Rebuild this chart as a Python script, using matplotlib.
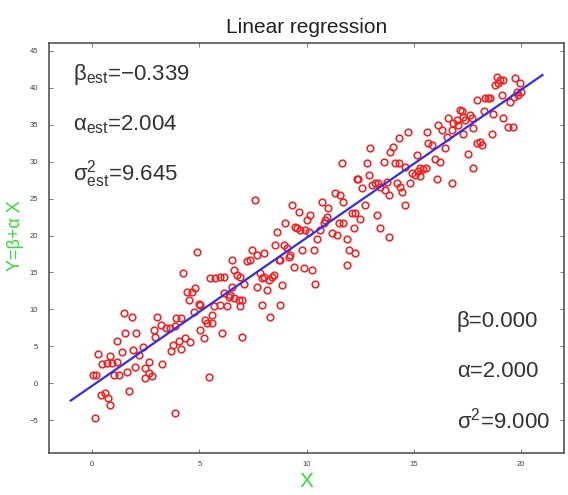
import numpy as np
import matplotlib
matplotlib.use("Agg")
import matplotlib.pyplot as plt

plt.rcParams['font.family'] = ['Liberation Sans', 'DejaVu Sans']
plt.rcParams['mathtext.fontset'] = 'custom'
plt.rcParams['mathtext.rm'] = 'Liberation Sans'
plt.rcParams['mathtext.it'] = 'Liberation Sans'

# samples
x_low = [0.03, 0.19, 0.12, 0.28, 0.39, 0.59, 0.75, 0.81, 0.47, 0.70, 0.93, 1.16, 0.85,
         1.16, 1.40, 1.49, 1.86, 1.55, 2.05, 1.89, 2.36, 2.20, 2.02, 1.63, 1.24, 1.01,
         1.74, 2.48, 2.64, 2.79, 2.45, 2.64, 3.26, 2.95, 2.87, 3.03, 3.23, 3.46, 3.65,
         3.85, 3.90, 4.15, 3.75, 4.03, 4.16, 3.69, 3.85, 4.24]
y_low = [1.12, 1.12, -4.74, 3.92, -1.58, -1.35, -2.03, -2.94, 2.57, 2.79, 2.71, 2.92, 3.74,
         5.77, 4.28, 9.55, 8.93, 6.85, 6.85, 4.50, 4.87, 3.83, 2.25, 1.57, 1.12, 1.12,
         -1.00, 2.03, 1.35, 0.99, 0.68, 2.92, 2.61, 6.20, 7.20, 8.93, 7.89, 7.53, 7.44,
         7.75, 8.80, 8.90, 5.14, 5.76, 4.60, 4.41, -4.06, 14.97]

x_mid = [4.35, 4.43, 4.66, 4.81, 4.50, 4.74, 4.58, 4.89, 4.97, 5.05, 5.05, 5.20, 5.28,
         5.36, 5.43, 5.51, 5.75, 5.98, 6.13, 5.59, 5.59, 5.67, 5.98, 6.06, 6.13, 6.37,
         6.44, 6.29, 6.52, 6.60, 6.75, 6.52, 6.60, 6.83, 6.99, 6.91, 6.99, 6.91, 7.07,
         7.22, 7.38, 7.45, 7.61, 7.69, 7.84, 7.92, 8.00, 7.92, 8.00, 8.15, 8.23, 8.31,
         8.39, 8.46, 8.54, 8.62, 8.70, 8.77, 8.74, 8.85, 8.93, 9.08, 7.70]
y_mid = [6.09, 12.40, 12.40, 12.86, 11.28, 9.70, 5.64, 17.80, 10.80, 10.60, 7.20, 6.09, 8.57,
         8.10, 0.90, 14.20, 14.20, 14.40, 14.40, 8.10, 9.20, 10.40, 10.60, 6.77, 12.20, 11.70,
         11.95, 10.40, 16.70, 15.30, 14.70, 13.10, 11.50, 11.30, 11.30, 10.40, 6.30, 14.40, 13.50,
         16.50, 16.70, 18.00, 24.80, 13.10, 14.90, 14.20, 14.40, 10.60, 17.60, 12.60, 13.98, 9.00,
         14.40, 14.70, 18.70, 20.50, 16.70, 16.70, 10.60, 13.30, 18.70, 18.30, 17.40]

x_high = [9.00, 9.16, 9.24, 9.32, 9.63, 9.39, 9.47, 9.55, 9.70, 9.78, 9.86, 10.25, 9.94,
          10.09, 10.00, 10.17, 10.33, 10.40, 10.48, 10.64, 10.70, 10.79, 10.87, 10.95, 11.02,
          11.18, 11.41, 11.34, 11.57, 11.49, 11.65, 11.72, 11.72, 11.88, 11.96, 12.27, 11.88,
          12.11, 12.27, 12.19, 12.34, 12.42, 12.50, 12.58, 12.73, 12.81, 12.89, 12.97, 13.04,
          13.20, 13.28, 13.35, 13.43, 13.43, 13.59, 13.66, 13.82, 13.74, 13.82, 13.90, 14.05,
          14.29, 14.13, 14.29, 14.21, 14.36, 14.44, 14.60, 14.60, 14.75, 14.83, 14.90, 15.05,
          15.20, 15.30, 15.45, 15.55, 15.14, 15.30, 15.60, 15.68, 15.84, 15.99, 16.23, 16.07,
          16.15, 16.30, 16.46, 16.54, 16.61, 16.77, 16.77, 16.85, 17.00, 17.08, 17.16, 17.24,
          17.31, 17.31, 17.39, 17.55, 17.62, 17.70, 17.78, 17.78, 17.93, 18.09, 18.17, 17.93,
          18.25, 18.32, 18.48, 18.56, 18.63, 18.71, 18.79, 18.87, 18.94, 19.00, 19.18, 19.10,
          19.18, 19.41, 19.64, 19.50, 19.66, 19.81, 19.72, 19.96, 19.88, 20.00]
y_high = [21.65, 17.10, 17.40, 24.10, 23.20, 15.80, 21.20, 21.00, 20.70, 18.00, 15.60, 15.30, 20.70,
          20.50, 22.10, 22.80, 18.00, 13.50, 19.60, 20.70, 24.60, 21.65, 22.10, 22.55, 23.70,
          20.30, 20.10, 25.70, 25.50, 21.65, 29.80, 24.60, 21.65, 19.60, 18.00, 17.70, 16.00,
          23.00, 23.00, 21.00, 27.70, 27.70, 22.30, 26.40, 24.10, 29.80, 28.20, 31.80, 26.80,
          27.10, 22.80, 27.10, 26.60, 21.00, 30.00, 26.20, 25.50, 27.30, 19.80, 31.30, 32.00,
          33.20, 29.80, 29.80, 27.10, 26.60, 25.90, 24.10, 29.30, 34.00, 27.10, 28.50, 28.20,
          28.80, 29.20, 29.00, 29.20, 30.90, 28.00, 34.00, 32.50, 32.30, 30.40, 30.00, 27.70,
          35.00, 34.30, 31.80, 33.40, 35.90, 34.30, 27.10, 35.20, 35.60, 35.00, 37.00, 36.80,
          36.10, 33.80, 35.60, 31.10, 36.30, 35.90, 29.10, 34.50, 32.50, 32.70, 32.30, 38.30,
          36.80, 38.60, 38.60, 38.60, 33.80, 36.50, 40.40, 41.50, 40.60, 41.00, 41.00, 39.00,
          35.90, 34.70, 34.70, 38.10, 38.80, 39.50, 41.30, 40.60, 39.00, 39.50]

x = np.array(x_low + x_mid + x_high)
y = np.array(y_low + y_mid + y_high)

beta_est, alpha_est, sigma2_est = -0.339, 2.004, 9.645
beta, alpha, sigma2 = 0.000, 2.000, 9.000
line_x = np.array([-1, 21])

fig = plt.figure(figsize=(5.68, 4.95), dpi=100)
ax = fig.add_axes([0.0868, 0.0855, 0.906, 0.828])

ax.plot(x, y, 'o', mfc='none', mec='#ff1a1a', ms=4.8, mew=1.1)
ax.plot(line_x, beta_est + alpha_est * line_x, color='#3030e8', lw=1.6)

ax.set_xlim(-2, 22)
ax.set_ylim(-9.4, 46.1)
ax.set_xticks(range(0, 21, 5))
ax.set_yticks(range(-5, 46, 5))
ax.tick_params(direction='in', length=3, top=True, right=True, labelsize=5.5,
               labelcolor='#444', color='#666', width=0.6)
ax.tick_params(axis='x', pad=6)
ax.tick_params(axis='y', pad=8)
for s in ax.spines.values():
    s.set_color('#555')
    s.set_linewidth(1.2)

ax.set_title('Linear regression', fontsize=15, color='#222', pad=7)
ax.set_xlabel('X', fontsize=15, color='#33dd33')
ax.set_ylabel('Y=β+α X', fontsize=13, color='#33dd33')
ax.yaxis.set_label_coords(-0.05, 0.53)
ax.xaxis.set_label_coords(0.5, -0.048)

tc = '#333'
ax.text(-0.9, 41.1, r'β$_{\rm est}$=−%.3f' % abs(beta_est), fontsize=16, color=tc, va='baseline')
ax.text(-0.9, 34.3, r'α$_{\rm est}$=%.3f' % alpha_est, fontsize=16, color=tc, va='baseline')
ax.text(-0.9, 27.5, r'σ$^{2}_{\rm est}$=%.3f' % sigma2_est, fontsize=16, color=tc, va='baseline')
ax.text(17.0, 7.6, 'β=%.3f' % beta, fontsize=16, color=tc, va='baseline')
ax.text(17.0, 0.8, 'α=%.3f' % alpha, fontsize=16, color=tc, va='baseline')
ax.text(17.0, -6.1, r'σ$^{2}$=%.3f' % sigma2, fontsize=16, color=tc, va='baseline')

fig.savefig('out.png', dpi=100)
